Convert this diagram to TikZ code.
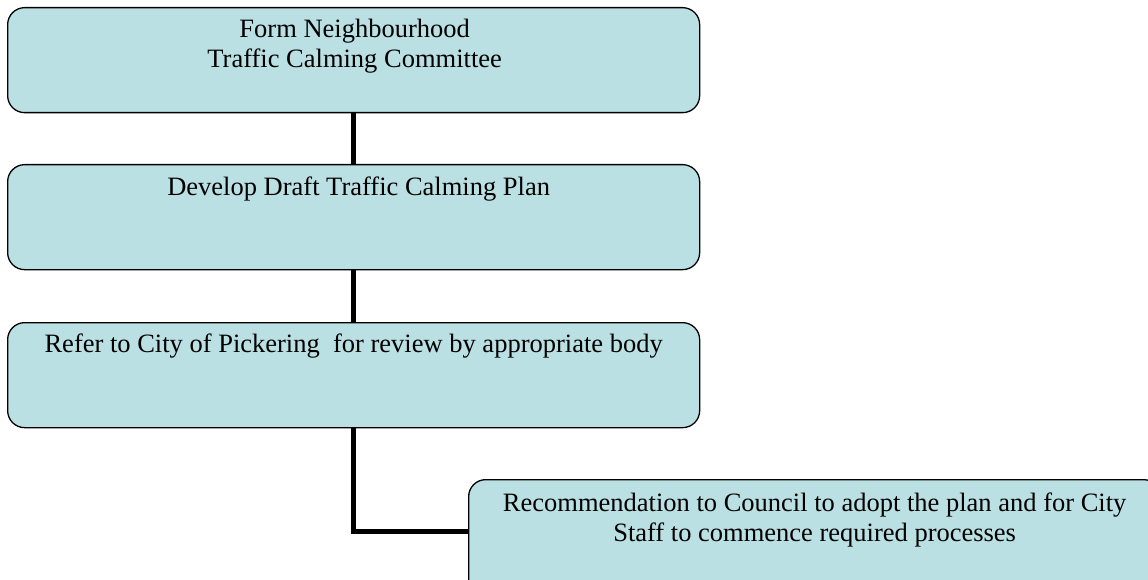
\documentclass[tikz,border=0pt]{standalone}
\usepackage{fontspec}
\setmainfont{Liberation Serif}
\usetikzlibrary{calc}
\definecolor{boxfill}{RGB}{186,224,227}
\tikzset{
  stepbox/.style={draw=black, line width=1.3pt, fill=boxfill, rounded corners=17pt,
    minimum width=692pt, minimum height=105pt, inner sep=0pt, anchor=north west},
  boxtext/.style={inner sep=0pt, anchor=base, align=center,
    font=\fontsize{26.5}{29.5}\selectfont},
  link/.style={draw=black, line width=5pt}
}
\begin{document}
\begin{tikzpicture}[x=1pt,y=-1pt]
\useasboundingbox (0,0) rectangle (1148,580);
\clip (0,0) rectangle (1148,580);
\node[stepbox] (b1) at (7,7) {};
\node[stepbox] (b2) at (7,164) {};
\node[stepbox] (b3) at (7,322) {};
\node[stepbox, minimum height=130pt] (b4) at (468,479) {};
\coordinate (c4) at ($(b4.north west)+(0,52)$);
\node[boxtext] (t1) at ($(b1.north)+(1,60.5)$) {Form Neighbourhood\\Traffic Calming Committee};
\node[boxtext] (t2) at ($(b2.north)+(5,32)$) {Develop Draft Traffic Calming Plan};
\node[boxtext] (t3) at ($(b3.north)+(0,30)$) {Refer to City of Pickering\ \ for review by appropriate body};
\node[boxtext] (t4) at ($(b4.north)+(0,62)$) {Recommendation to Council to adopt the plan and for City\\Staff to commence required processes};
\draw[link] (b1.south) -- (b2.north);
\draw[link] (b2.south) -- (b3.north);
\draw[link] (b3.south) |- (c4);
\end{tikzpicture}
\end{document}
